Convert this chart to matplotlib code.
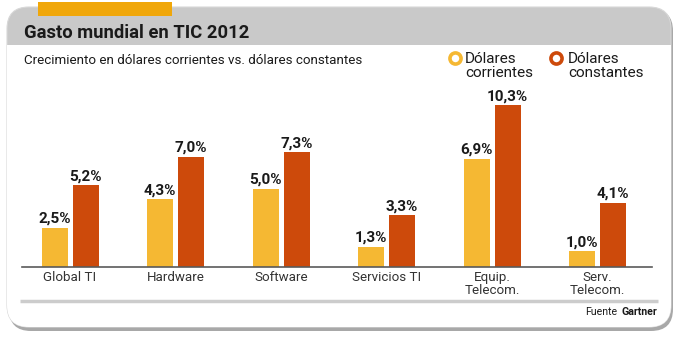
import matplotlib.pyplot as plt
from matplotlib.patches import FancyBboxPatch, Rectangle
import numpy as np

plt.rcParams['font.family'] = ['Roboto', 'DejaVu Sans']

# Data
categories = ['Global TI', 'Hardware', 'Software', 'Servicios TI', 'Equip.\nTelecom.', 'Serv.\nTelecom.']
corrientes = [2.5, 4.3, 5.0, 1.3, 6.9, 1.0]
constantes = [5.2, 7.0, 7.3, 3.3, 10.3, 4.1]

W, H = 680, 339
YELLOW = '#F5B833'
ORANGE = '#CD4A0B'
TAB = '#F0A70A'
HEADER = '#C9C9C9'

fig = plt.figure(figsize=(W / 100, H / 100), dpi=100)
fig.patch.set_facecolor('white')

# Background layer in pixel coordinates (origin top-left)
bg = fig.add_axes([0, 0, 1, 1], zorder=0)
bg.set_xlim(0, W)
bg.set_ylim(H, 0)
bg.axis('off')

r = 22
shadow = FancyBboxPatch((9 + r, 9 + r), 664 - 2 * r, 322 - 2 * r,
                        boxstyle=f'round,pad={r}', fc='#6e6e6e', ec='none', alpha=0.6)
bg.add_patch(shadow)
frame = FancyBboxPatch((7 + r, 7 + r), 664 - 2 * r, 320 - 2 * r,
                       boxstyle=f'round,pad={r}', fc=HEADER, ec='#d8d8d8', lw=0.8)
bg.add_patch(frame)
body = Rectangle((0, 45), W, H, fc='white', ec='none')
bg.add_patch(body)
body.set_clip_path(frame)

# Orange tab above the header
bg.add_patch(Rectangle((38, 2), 134, 14, fc=TAB, ec='none'))

bg.text(24, 33, 'Gasto mundial en TIC 2012', fontsize=13.2, fontweight='bold',
        color='#1a1a1a', va='center', ha='left')
bg.text(24, 60, 'Crecimiento en dólares corrientes vs. dólares constantes',
        fontsize=9.6, color='#1a1a1a', va='center', ha='left')

# Legend
bg.plot([454.5], [58], marker='o', ms=8, mfc='white', mec=YELLOW, mew=2.6)
bg.text(465, 66, 'Dólares\ncorrientes', fontsize=11, color='#1a1a1a',
        va='center', ha='left', linespacing=1.05)
bg.plot([556], [58], marker='o', ms=8, mfc='white', mec=ORANGE, mew=2.6)
bg.text(568, 66, 'Dólares\nconstantes', fontsize=11, color='#1a1a1a',
        va='center', ha='left', linespacing=1.05)

# Separator and source line
bg.plot([20, 658], [300.5, 300.5], color='#cccccc', lw=2.5, solid_capstyle='butt')
bg.text(657, 312, 'Gartner', fontsize=7.6, fontweight='bold', color='#1a1a1a',
        va='center', ha='right')
bg.text(617, 312, 'Fuente', fontsize=7.6, color='#1a1a1a', va='center', ha='right')

# Bar chart axes
x0, x1 = 22, 652
ybase, ytop = 267, 95
ax = fig.add_axes([x0 / W, (H - ybase) / H, (x1 - x0) / W, (ybase - ytop) / H], zorder=1)
ax.patch.set_alpha(0)

step = 105.5
x = np.arange(len(categories))
ax.set_xlim((x0 - 70) / step, (x1 - 70) / step)
ax.set_ylim(0, (ybase - ytop) / 15.7)

bw = 26 / step
off = 15.5 / step
ax.bar(x - off, corrientes, bw, color=YELLOW)
ax.bar(x + off, constantes, bw, color=ORANGE)

def fmt(v):
    return f'{v:.1f}'.replace('.', ',') + '%'

for xi, a, b in zip(x, corrientes, constantes):
    ax.annotate(fmt(a), (xi - off, a), xytext=(0, 1.5), textcoords='offset points',
                ha='center', va='bottom', fontsize=11, fontweight='bold', color='#1a1a1a')
    ax.annotate(fmt(b), (xi + off, b), xytext=(0, 1.5), textcoords='offset points',
                ha='center', va='bottom', fontsize=11, fontweight='bold', color='#1a1a1a')

for s in ['top', 'right', 'left']:
    ax.spines[s].set_visible(False)
ax.spines['bottom'].set_color('#5a5a5a')
ax.spines['bottom'].set_linewidth(1.2)
ax.set_yticks([])
ax.set_xticks(x)
ax.set_xticklabels(categories, fontsize=9.6, color='#333333', linespacing=1.0)
ax.tick_params(axis='x', length=0, pad=3)

fig.savefig('out.png', dpi=100)
